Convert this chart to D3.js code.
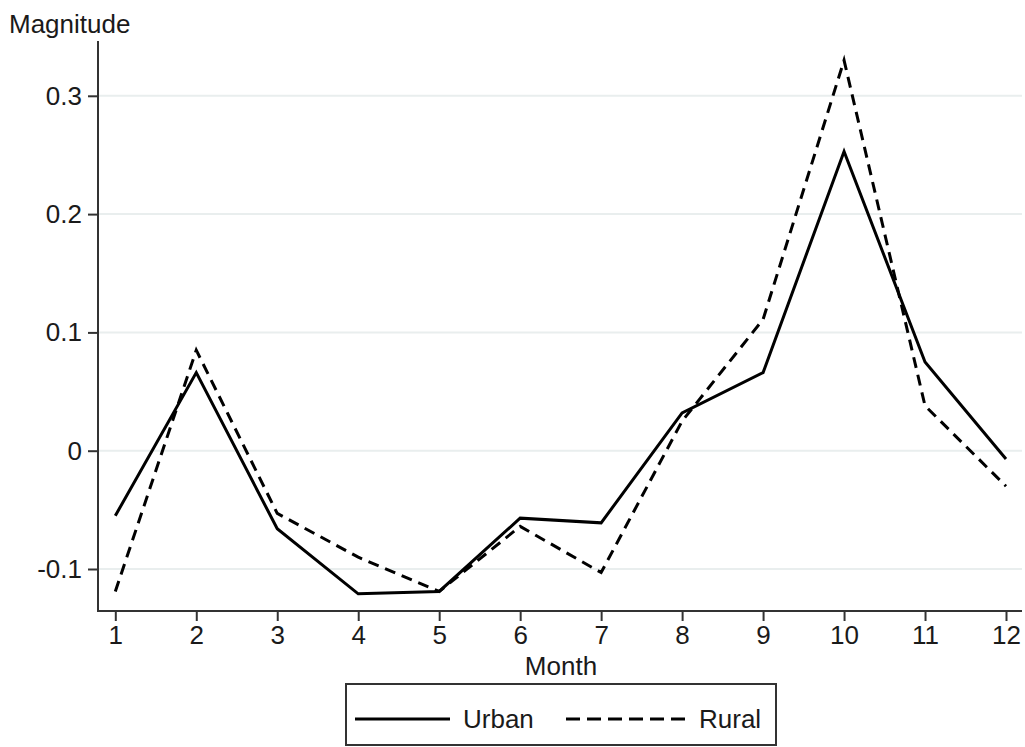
<!DOCTYPE html>
<html>
<head>
<meta charset="utf-8">
<script src="https://cdn.jsdelivr.net/npm/d3@7"></script>
<style>
  html, body { margin: 0; padding: 0; background: #fff; }
  svg { display: block; }
  text { font-family: "Liberation Sans", Arial, sans-serif; fill: #1a1a1a; }
</style>
</head>
<body>
<svg id="chart" width="1025" height="747"></svg>
<script>
// Monthly magnitude by area type
const months = [1, 2, 3, 4, 5, 6, 7, 8, 9, 10, 11, 12];
const urban = [-0.055, 0.066, -0.066, -0.121, -0.119, -0.057, -0.061, 0.032, 0.066, 0.253, 0.075, -0.007];
const rural = [-0.119, 0.085, -0.053, -0.090, -0.119, -0.064, -0.103, 0.025, 0.111, 0.330, 0.038, -0.030];
const yTicks = [-0.1, 0, 0.1, 0.2, 0.3];
const yTickLabels = ["-0.1", "0", "0.1", "0.2", "0.3"];
const seriesNames = ["Urban", "Rural"];

const svg = d3.select("#chart");
const FONT = '"Liberation Sans", Arial, sans-serif';
const FS = 26;

const plot = { left: 98, right: 1022, top: 41, bottom: 611 };

const x = d3.scaleLinear().domain([1, 12]).range([115.3, 1006]);
const y = d3.scaleLinear().domain([-0.1, 0.3]).range([569, 95.8]);

// horizontal grid lines
svg.append("g")
  .selectAll("line")
  .data(yTicks)
  .join("line")
  .attr("x1", plot.left + 1)
  .attr("x2", plot.right)
  .attr("y1", d => y(d))
  .attr("y2", d => y(d))
  .attr("stroke", "#e9eeee")
  .attr("stroke-width", 2);

// y axis
const yAxis = d3.axisLeft(y)
  .tickValues(yTicks)
  .tickFormat((d, i) => yTickLabels[i])
  .tickSize(10)
  .tickPadding(6)
  .tickSizeOuter(0);
const gy = svg.append("g")
  .attr("transform", `translate(${plot.left},0)`)
  .call(yAxis);
gy.select(".domain").remove();
gy.selectAll(".tick line").attr("stroke", "#333").attr("stroke-width", 2);
gy.selectAll(".tick text").attr("font-size", FS).attr("fill", "#1a1a1a")
  .attr("font-family", FONT);
svg.append("line")
  .attr("x1", plot.left).attr("x2", plot.left)
  .attr("y1", plot.top).attr("y2", plot.bottom)
  .attr("stroke", "#333").attr("stroke-width", 2);

// x axis
const xAxis = d3.axisBottom(x)
  .tickValues(months)
  .tickFormat(d3.format("d"))
  .tickSize(10)
  .tickPadding(5)
  .tickSizeOuter(0);
const gx = svg.append("g")
  .attr("transform", `translate(0,${plot.bottom})`)
  .call(xAxis);
gx.select(".domain").remove();
gx.selectAll(".tick line").attr("stroke", "#333").attr("stroke-width", 2);
gx.selectAll(".tick text").attr("font-size", FS).attr("fill", "#1a1a1a")
  .attr("font-family", FONT);
svg.append("line")
  .attr("x1", plot.left - 1).attr("x2", plot.right)
  .attr("y1", plot.bottom).attr("y2", plot.bottom)
  .attr("stroke", "#333").attr("stroke-width", 2);

// axis titles
svg.append("text")
  .attr("x", 9).attr("y", 33)
  .attr("font-size", FS)
  .text("Magnitude");
svg.append("text")
  .attr("x", 561).attr("y", 675)
  .attr("text-anchor", "middle")
  .attr("font-size", FS)
  .text("Month");

// series lines
const line = d3.line()
  .x((d, i) => x(months[i]))
  .y(d => y(d));

svg.append("path")
  .datum(rural)
  .attr("d", line)
  .attr("fill", "none")
  .attr("stroke", "#000")
  .attr("stroke-width", 3)
  .attr("stroke-dasharray", "11,7");

svg.append("path")
  .datum(urban)
  .attr("d", line)
  .attr("fill", "none")
  .attr("stroke", "#000")
  .attr("stroke-width", 3);

// legend
const lg = svg.append("g");
lg.append("rect")
  .attr("x", 346).attr("y", 684)
  .attr("width", 430).attr("height", 61)
  .attr("fill", "#fff")
  .attr("stroke", "#333")
  .attr("stroke-width", 2);
const legendItems = [
  { name: seriesNames[0], dash: null, x1: 355, x2: 450, tx: 463 },
  { name: seriesNames[1], dash: "14,7", x1: 566, x2: 686, tx: 699 }
];
legendItems.forEach(it => {
  lg.append("line")
    .attr("x1", it.x1).attr("x2", it.x2)
    .attr("y1", 719).attr("y2", 719)
    .attr("stroke", "#000")
    .attr("stroke-width", 3)
    .attr("stroke-dasharray", it.dash);
  lg.append("text")
    .attr("x", it.tx).attr("y", 728)
    .attr("font-size", FS)
    .text(it.name);
});
</script>
</body>
</html>
